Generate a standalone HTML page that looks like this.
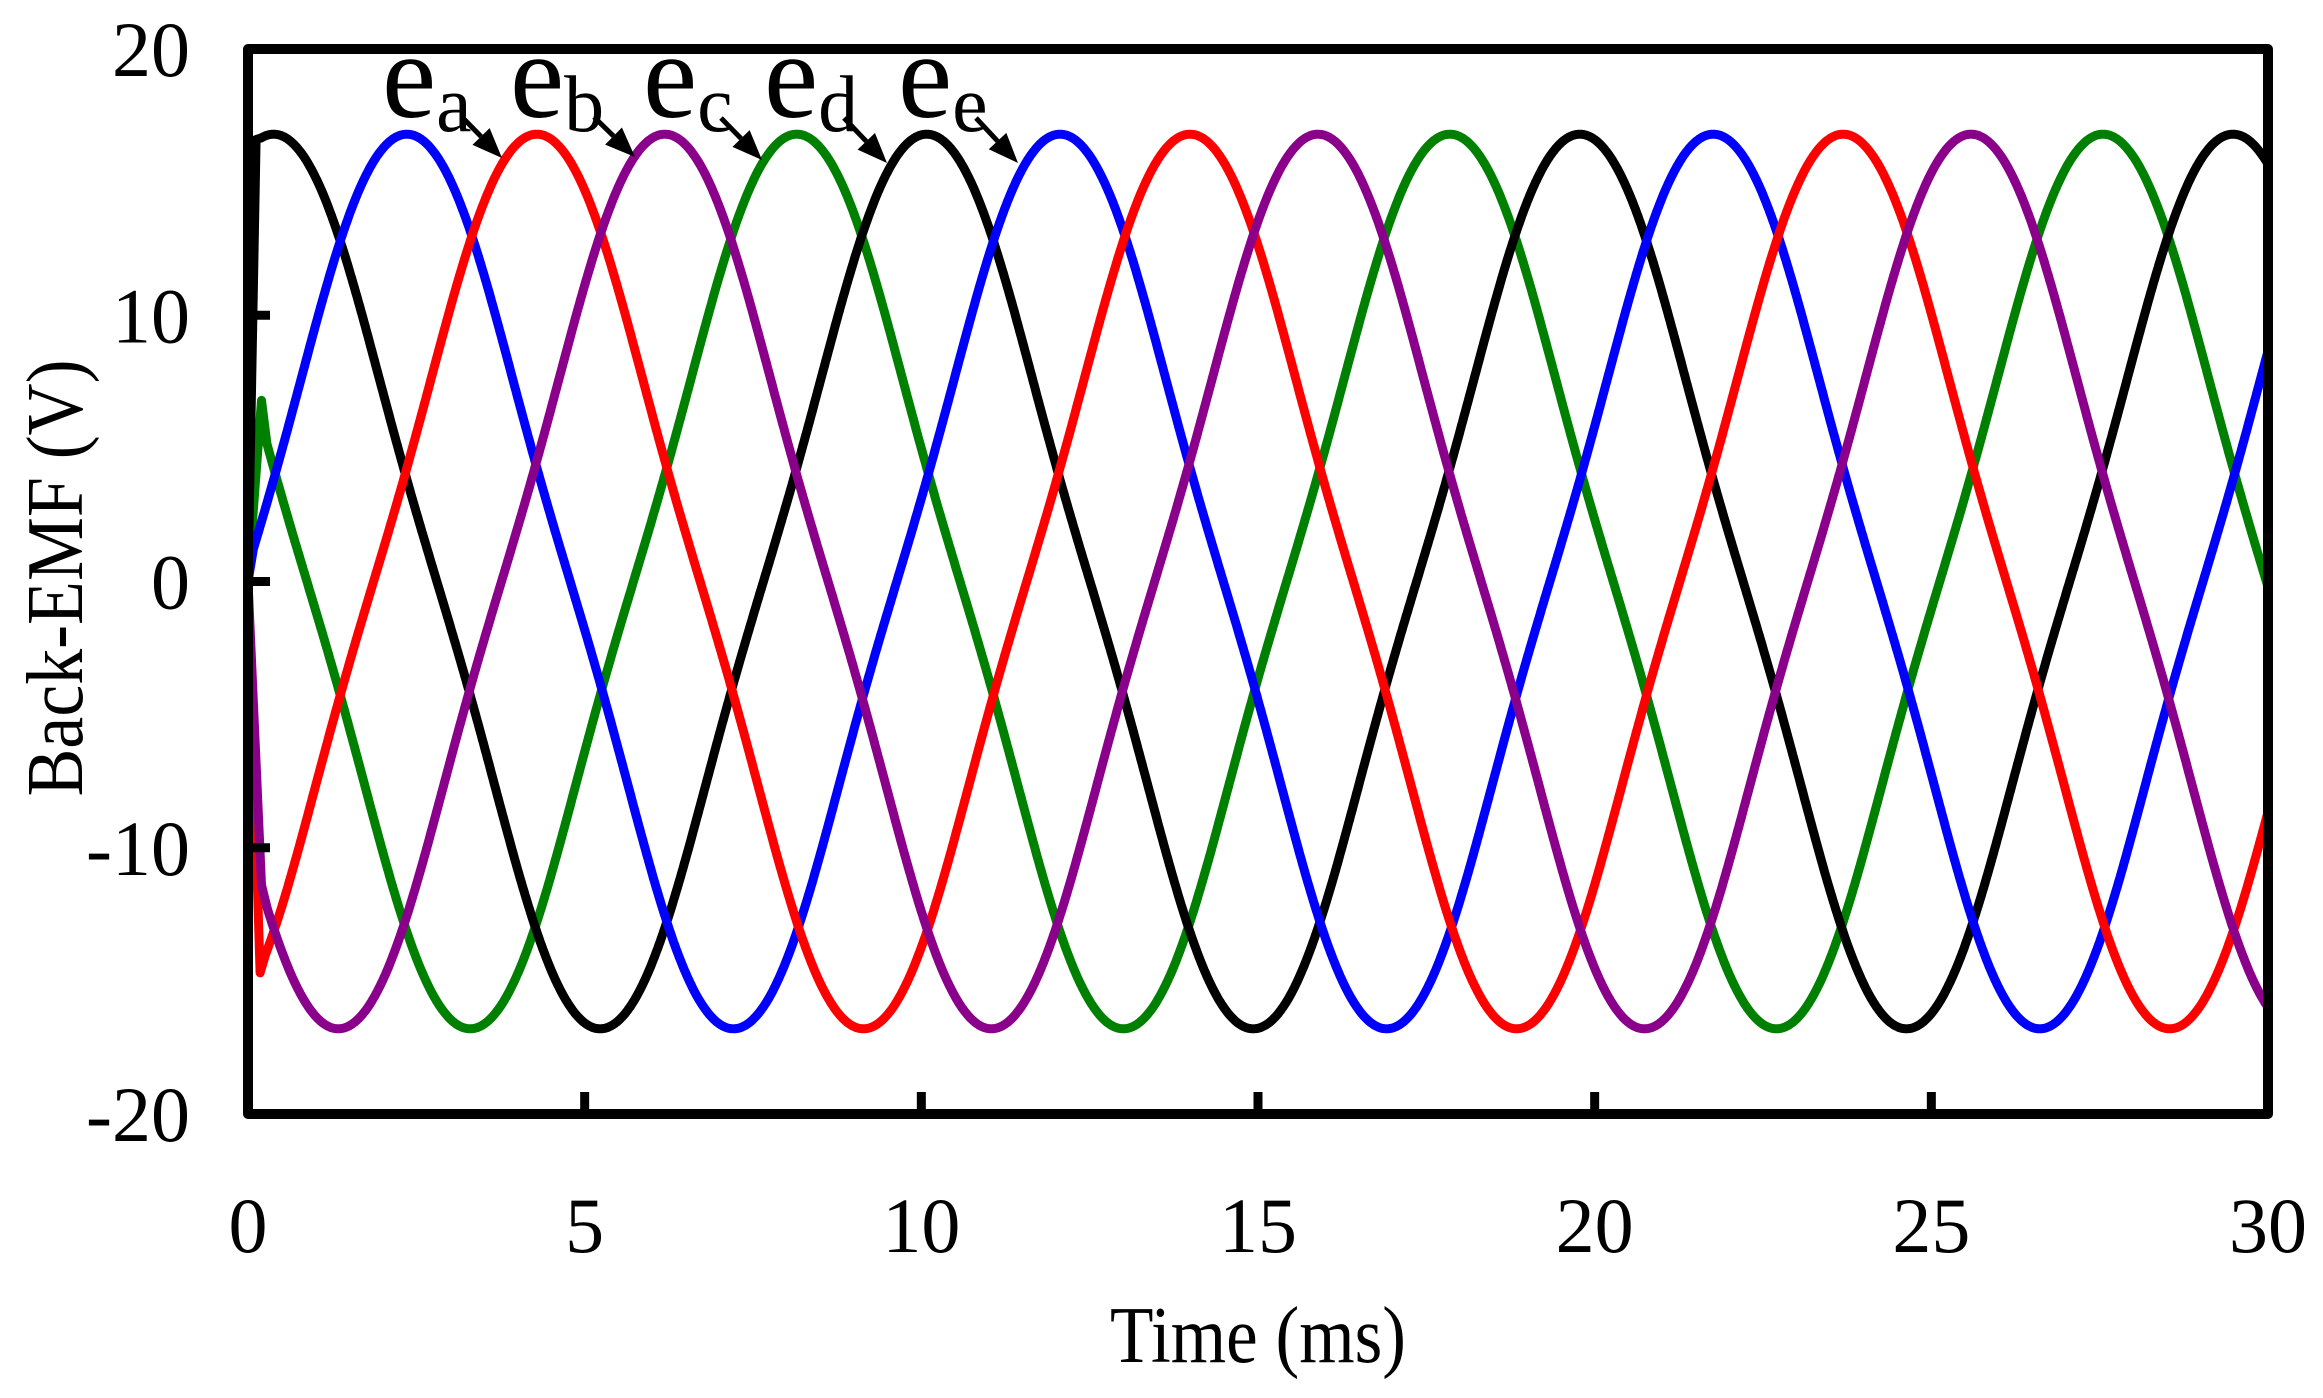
<!DOCTYPE html>
<html><head><meta charset="utf-8"><style>
html,body{margin:0;padding:0;background:#fff}
svg{display:block}
text{font-family:"Liberation Serif","Times New Roman",serif;fill:#000}
</style></head><body>
<svg id="chart" width="2323" height="1398" viewBox="0 0 2323 1398" xmlns="http://www.w3.org/2000/svg">
<g id="series"></g>
<rect x="248" y="49" width="2020" height="1065" fill="none" stroke="#000" stroke-width="10" stroke-linejoin="round"/>
<g id="ticks"></g>
<text x="1258" y="1362" font-size="80" text-anchor="middle" textLength="296" lengthAdjust="spacingAndGlyphs">Time (ms)</text>
<text transform="translate(82,578) rotate(-90)" font-size="80" text-anchor="middle" textLength="437" lengthAdjust="spacingAndGlyphs">Back-EMF (V)</text>
<g id="labels"></g>
</svg>
<script>
const xTicks = [0,5,10,15,20,25,30];
const yTicks = [20,10,0,-10,-20];
const seriesNames = ['ea','eb','ec','ed','ee'];
const seriesColors = ['#0000ff','#ff0000','#8b008b','#008000','#000000'];
const seriesSubs = ['a','b','c','d','e'];
const peakTimes = [2.36,4.29,6.19,8.15,0.38];
const amplitudes = [16.8,16.8,16.8,16.8,16.8];
const periods = [9.7,9.7,9.7,9.7,9.7];
const harmonics = [0.960,0.0485,-0.0085];
const startKnotsT = [[0],[0,0.18],[0,0.2],[0,0.2],[0,0.12]];
const startKnotsV = [[0],[0,-14.7],[0,-11.4],[0,6.8],[0,16.6]];
const labelX = [382,510,643,764,898];
const arrowFrom = [[462,117],[594,117],[721,118],[844,118],[976,118]];
const arrowTo = [[502,158],[635,157],[762,160],[887,163],[1018,163]];

const X0=248,X1=2268,Y0=49,Y1=1114;
const xs=t=>X0+(t-0)/(30-0)*(X1-X0);
const ys=v=>Y1-(v+20)/40*(Y1-Y0);
const NS='http://www.w3.org/2000/svg';
function wave(th){return harmonics[0]*Math.cos(th)+harmonics[1]*Math.cos(3*th)+harmonics[2]*Math.cos(5*th);}
const sg=document.getElementById('series');
const order=[3,4,0,1,2];
order.forEach(i=>{
  const pts=[];
  const kt=startKnotsT[i],kv=startKnotsV[i];
  for(let k=0;k<kt.length;k++)pts.push([xs(kt[k]),ys(kv[k])]);
  const tStart=kt[kt.length-1]+0.08;
  for(let t=tStart;t<=30.0001;t+=0.02){
    const v=amplitudes[i]*wave(2*Math.PI*(t-peakTimes[i])/periods[i]);
    pts.push([xs(t),ys(v)]);
  }
  const p=document.createElementNS(NS,'polyline');
  p.setAttribute('points',pts.map(q=>q[0].toFixed(1)+','+q[1].toFixed(1)).join(' '));
  p.setAttribute('fill','none');
  p.setAttribute('stroke',seriesColors[i]);
  p.setAttribute('stroke-width','9');
  p.setAttribute('stroke-linejoin','round');
  
  
  sg.appendChild(p);
});
const tg=document.getElementById('ticks');
xTicks.forEach(t=>{
  if(t>0&&t<30){
    const l=document.createElementNS(NS,'line');
    l.setAttribute('x1',xs(t));l.setAttribute('x2',xs(t));
    l.setAttribute('y1',Y1);l.setAttribute('y2',Y1-22);
    l.setAttribute('stroke','#000');l.setAttribute('stroke-width','9');
    
    
    tg.appendChild(l);
  }
  const tx=document.createElementNS(NS,'text');
  tx.setAttribute('x',xs(t));tx.setAttribute('y',1252);
  tx.setAttribute('font-size','78');tx.setAttribute('text-anchor','middle');
  tx.textContent=t;
  
  
  tg.appendChild(tx);
});
yTicks.forEach(v=>{
  if(v>-20&&v<20){
    const l=document.createElementNS(NS,'line');
    l.setAttribute('x1',X0);l.setAttribute('x2',X0+22);
    l.setAttribute('y1',ys(v));l.setAttribute('y2',ys(v));
    l.setAttribute('stroke','#000');l.setAttribute('stroke-width','9');
    
    
    tg.appendChild(l);
  }
  const tx=document.createElementNS(NS,'text');
  tx.setAttribute('x',190);tx.setAttribute('y',ys(v)+27);
  tx.setAttribute('font-size','78');tx.setAttribute('text-anchor','end');
  tx.textContent=v;
  
  
  tg.appendChild(tx);
});
const lg=document.getElementById('labels');
seriesSubs.forEach((s,j)=>{
  const tx=document.createElementNS(NS,'text');
  tx.setAttribute('x',labelX[j]);tx.setAttribute('y',117);
  tx.setAttribute('font-size','122');
  tx.innerHTML='e<tspan font-size="80" dy="14">'+s+'</tspan>';
  
  
  lg.appendChild(tx);
  const a=arrowFrom[j],b=arrowTo[j];
  const dx=b[0]-a[0],dy=b[1]-a[1],L=Math.hypot(dx,dy),ux=dx/L,uy=dy/L;
  const hl=30,hw=12;
  const bx=b[0]-ux*hl,by=b[1]-uy*hl;
  const l=document.createElementNS(NS,'line');
  l.setAttribute('x1',a[0]);l.setAttribute('y1',a[1]);
  l.setAttribute('x2',bx);l.setAttribute('y2',by);
  l.setAttribute('stroke','#000');l.setAttribute('stroke-width','5');
  
  
  lg.appendChild(l);
  const h=document.createElementNS(NS,'polygon');
  h.setAttribute('points',[b[0],b[1],bx-uy*hw,by+ux*hw,bx+uy*hw,by-ux*hw].join(','));
  h.setAttribute('fill','#000');
  
  
  lg.appendChild(h);
});
</script>
</body></html>
